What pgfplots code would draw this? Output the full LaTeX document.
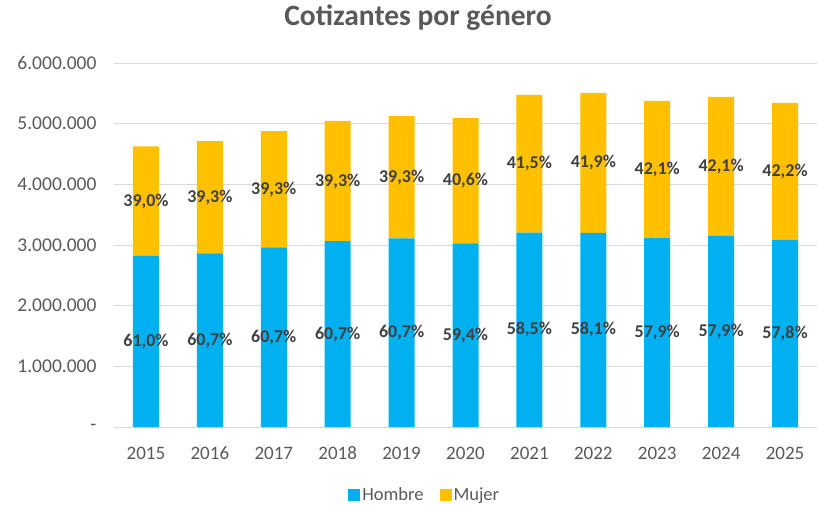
\documentclass[border=0pt]{standalone}
\usepackage{pgfplots}
\pgfplotsset{compat=1.18}
\usepackage{pgfplotstable}
\usepackage{fontspec}
\setmainfont{Carlito}
\definecolor{hombre}{HTML}{00B0F0}
\definecolor{mujer}{HTML}{FFC000}
\definecolor{txt}{HTML}{595959}
\definecolor{lbl}{HTML}{404040}
\definecolor{grd}{HTML}{D9D9D9}

\pgfplotstableread{
x year h m hl ml
0 2015 2822000 1804000 61,0 39,0
1 2016 2861000 1853000 60,7 39,3
2 2017 2962000 1917000 60,7 39,3
3 2018 3062000 1982000 60,7 39,3
4 2019 3111000 2015000 60,7 39,3
5 2020 3025000 2068000 59,4 40,6
6 2021 3202000 2271000 58,5 41,5
7 2022 3199000 2307000 58,1 41,9
8 2023 3112000 2262000 57,9 42,1
9 2024 3150000 2290000 57,9 42,1
10 2025 3087000 2254000 57,8 42,2
}\datatable

\begin{document}
\begin{tikzpicture}
\useasboundingbox (0pt,0pt) rectangle (817pt,504pt);
\node[font=\bfseries\fontsize{29.5}{34}\selectfont, text=txt] at (418pt,486pt) {Cotizantes por género};
\begin{axis}[
  at={(114pt,77pt)}, anchor=south west,
  width=703pt, height=364pt, scale only axis,
  ybar stacked, bar width=26pt,
  xmin=-0.5, xmax=10.5, ymin=0, ymax=6000000,
  enlargelimits=false,
  xtick={0,...,10},
  xticklabels={2015,2016,2017,2018,2019,2020,2021,2022,2023,2024,2025},
  ytick={0,1000000,2000000,3000000,4000000,5000000,6000000},
  yticklabels={-,1.000.000,2.000.000,3.000.000,4.000.000,5.000.000,6.000.000},
  scaled y ticks=false,
  /pgf/number format/assume math mode=true,
  ymajorgrids, grid style={grd, line width=0.8pt},
  axis x line*=bottom, axis y line*=left,
  x axis line style={grd, line width=0.8pt},
  y axis line style={draw=none},
  major tick length=0pt,
  tick style={draw=none},
  xticklabel style={font=\fontsize{19}{21}\selectfont, text=txt, anchor=base, yshift=-32pt},
  yticklabel style={font=\fontsize{19.5}{21}\selectfont, text=txt, xshift=-14pt},
  legend style={at={(0.442,-0.186)}, anchor=center, draw=none, legend columns=2,
    font=\fontsize{18.5}{20}\selectfont, text=txt,
    /tikz/every even column/.append style={column sep=14pt},
    nodes={inner sep=2pt}},
  legend image code/.code={\fill[#1,draw=none] (0pt,-6pt) rectangle (12pt,6pt);},
  nodes near coords={\pgfplotspointmeta\%},
  every node near coord/.append style={anchor=center, font=\bfseries\fontsize{18}{20}\selectfont, text=lbl},
]
\addplot[fill=hombre, draw=none, point meta=explicit symbolic]
  table[x=x, y=h, meta=hl] {\datatable};
\addplot[fill=mujer, draw=none, point meta=explicit symbolic]
  table[x=x, y=m, meta=ml] {\datatable};
\legend{Hombre, Mujer}
\end{axis}
\end{tikzpicture}
\end{document}
